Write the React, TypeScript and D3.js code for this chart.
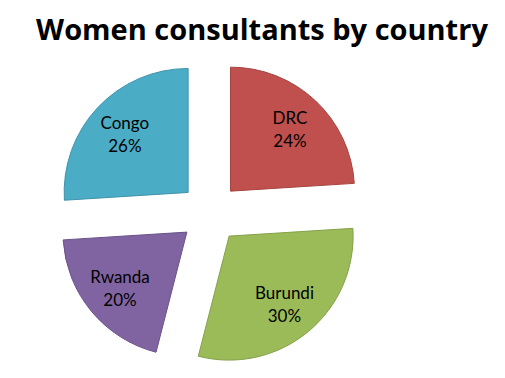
import React from "react";
import * as d3 from "d3";

const categories = ["DRC", "Burundi", "Rwanda", "Congo"];
const values = [24, 30, 20, 26];
const colors = ["#C0504D", "#9BBB59", "#8064A2", "#4BACC6"];
const strokes = ["#A64542", "#85A24B", "#6B5389", "#3F93AA"];
const title = "Women consultants by country";

export default function App() {
  const W = 505, H = 378;
  const cx = 210, cy = 213, r = 124, explode = 30;
  const pie = d3.pie<number>().sort(null).value((d) => d)(values);
  const arc = d3.arc<d3.PieArcDatum<number>>().innerRadius(0).outerRadius(r);
  const total = d3.sum(values);
  return (
    <div style={{ position: "absolute", left: 0, top: 0 }}>
      <svg width={W} height={H} style={{ display: "block", background: "#fff" }}>
        <text x={262} y={40} textAnchor="middle" fontFamily="'Open Sans', Lato, sans-serif" fontWeight="bold" fontSize={29} fill="#000">
          {title}
        </text>
        {pie.map((p, i) => {
          const mid = (p.startAngle + p.endAngle) / 2;
          const dx = Math.sin(mid) * explode;
          const dy = -Math.cos(mid) * explode;
          const lr = r * 0.7;
          const lx = Math.sin(mid) * lr;
          const ly = -Math.cos(mid) * lr;
          return (
            <g key={categories[i]} transform={`translate(${cx + dx},${cy + dy})`}>
              <path d={arc(p) || ""} fill={colors[i]} stroke={strokes[i]} strokeWidth={1} />
              <text x={lx} y={ly - 4} textAnchor="middle" fontFamily="Lato, 'Open Sans', sans-serif" fontSize={17} fill="#000">
                {categories[i]}
              </text>
              <text x={lx} y={ly + 19} textAnchor="middle" fontFamily="Lato, 'Open Sans', sans-serif" fontSize={17} fill="#000">
                {`${Math.round((values[i] / total) * 100)}%`}
              </text>
            </g>
          );
        })}
      </svg>
    </div>
  );
}
